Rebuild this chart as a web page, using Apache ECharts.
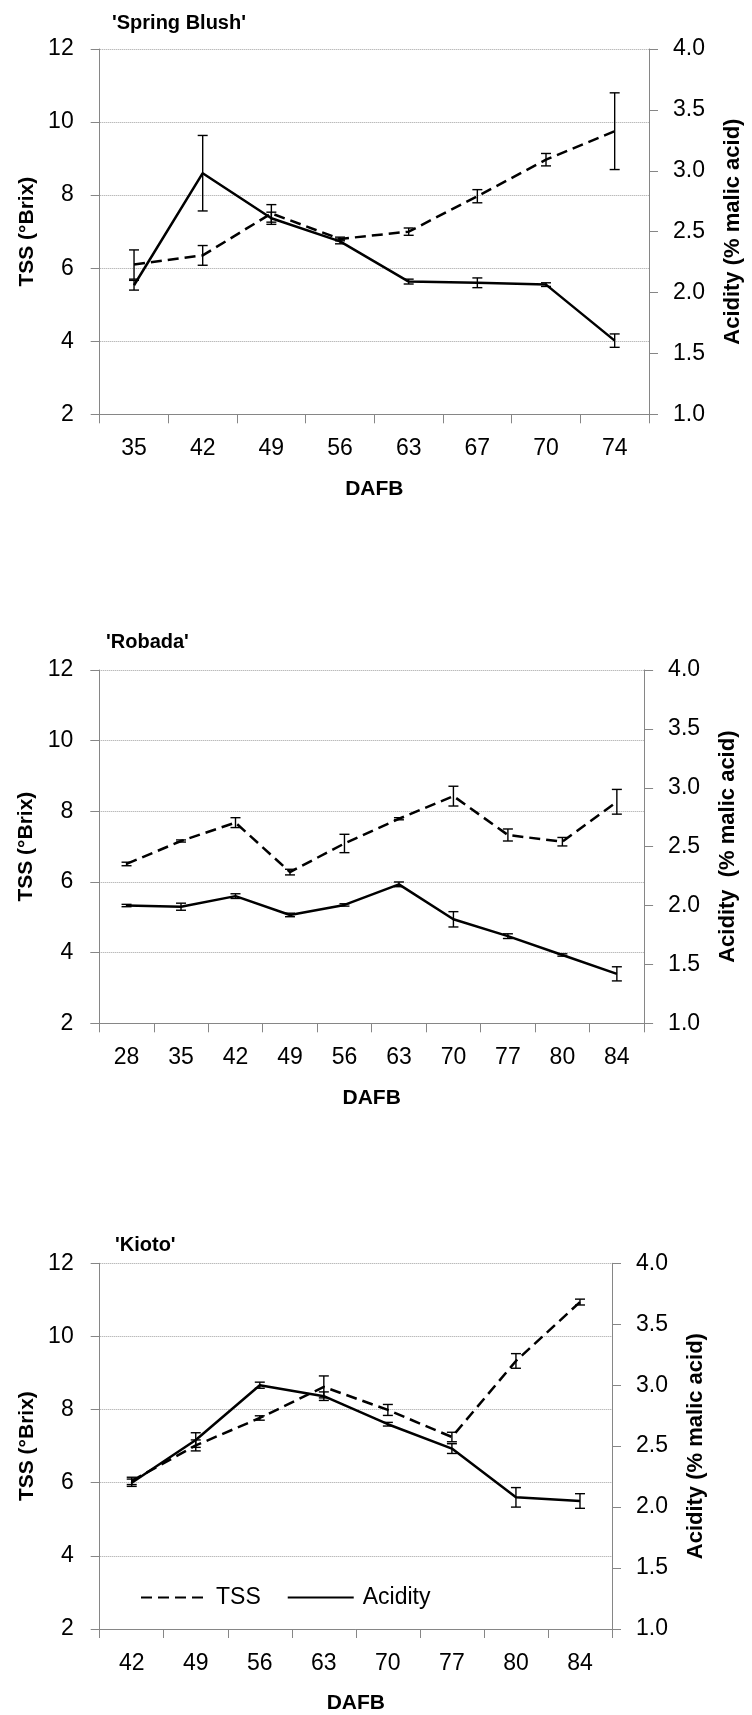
<!DOCTYPE html>
<html><head><meta charset="utf-8">
<script src="https://cdn.jsdelivr.net/npm/echarts@6/dist/echarts.min.js"></script>
<style>html,body{margin:0;padding:0;background:#fff}#c{width:752px;height:1715px}</style>
</head><body><div id="c"></div>
<script>
// 'Spring Blush'
const sbDays = ['35','42','49','56','63','67','70','74'];
const sbTSS = [6.1, 6.35, 7.5, 6.8, 7.0, 7.97, 8.97, 9.75];
const sbTSSErr = [0.4, 0.27, 0.24, 0.05, 0.1, 0.18, 0.17, 1.05];
const sbAcid = [2.06, 2.98, 2.61, 2.42, 2.09, 2.08, 2.065, 1.605];
const sbAcidErr = [0.04, 0.31, 0.05, 0.02, 0.02, 0.04, 0.015, 0.055];
// 'Robada'
const rbDays = ['28','35','42','49','56','63','70','77','80','84'];
const rbTSS = [6.51, 7.16, 7.68, 6.28, 7.09, 7.79, 8.43, 7.33, 7.14, 8.27];
const rbTSSErr = [0.05, 0.03, 0.14, 0.08, 0.26, 0.03, 0.28, 0.17, 0.12, 0.35];
const rbAcid = [2.0, 1.99, 2.08, 1.92, 2.005, 2.18, 1.883, 1.74, 1.58, 1.42];
const rbAcidErr = [0.01, 0.03, 0.02, 0.015, 0.01, 0.02, 0.065, 0.02, 0.01, 0.06];
// 'Kioto'
const kiDays = ['42','49','56','63','70','77','80','84'];
const kiTSS = [6.05, 7.02, 7.77, 8.62, 7.99, 7.25, 9.33, 10.94];
const kiTSSErr = [0.1, 0.15, 0.06, 0.3, 0.15, 0.13, 0.2, 0.08];
const kiAcid = [2.2, 2.55, 3.0, 2.91, 2.68, 2.48, 2.08, 2.05];
const kiAcidErr = [0.03, 0.06, 0.025, 0.035, 0.015, 0.04, 0.08, 0.06];

const titles = ["'Spring Blush'", "'Robada'", "'Kioto'"];
const leftName = 'TSS (°Brix)';
const rightNames = ['Acidity (% malic acid)', 'Acidity  (% malic acid)', 'Acidity (% malic acid)'];
const xName = 'DAFB';

const FONT = 'Liberation Sans';
const AX = '#868686';

const panels = [
  {grid:{left:99.7, top:49, width:552.6, height:365.3}, title:{left:112, top:13}, days:sbDays, tss:sbTSS, tssE:sbTSSErr, ac:sbAcid, acE:sbAcidErr},
  {grid:{left:99.3, top:670, width:544.8, height:353.3}, title:{left:106, top:632}, days:rbDays, tss:rbTSS, tssE:rbTSSErr, ac:rbAcid, acE:rbAcidErr},
  {grid:{left:99.7, top:1263.3, width:512.3, height:366.7}, title:{left:115, top:1235}, days:kiDays, tss:kiTSS, tssE:kiTSSErr, ac:kiAcid, acE:kiAcidErr}
];

function errBars(params, api){
  const i = api.value(0), v = api.value(1), e = api.value(2);
  const t = api.coord([i, v + e]), b = api.coord([i, v - e]);
  const cw = 5;
  const st = {stroke:'#000', lineWidth:1.4};
  return {type:'group', children:[
    {type:'line', shape:{x1:t[0], y1:t[1], x2:b[0], y2:b[1]}, style:st},
    {type:'line', shape:{x1:t[0]-cw, y1:t[1], x2:t[0]+cw, y2:t[1]}, style:st},
    {type:'line', shape:{x1:b[0]-cw, y1:b[1], x2:b[0]+cw, y2:b[1]}, style:st}
  ]};
}

const option = {
  animation:false,
  backgroundColor:'#fff',
  textStyle:{fontFamily:FONT},
  title:[], grid:[], xAxis:[], yAxis:[], series:[],
  legend:{
    data:['TSS','Acidity'], left:135, top:1581, itemWidth:66, itemHeight:14, itemGap:26,
    itemStyle:{opacity:0},
    textStyle:{fontSize:23, color:'#000', fontFamily:FONT, padding:[0,0,0,4]}
  }
};

panels.forEach((p, k) => {
  option.grid.push(Object.assign({containLabel:false}, p.grid));
  option.title.push({text:titles[k], left:p.title.left, top:p.title.top, padding:0,
    textStyle:{fontFamily:FONT, fontWeight:'bold', fontSize:20, color:'#000'}});
  option.xAxis.push({
    gridIndex:k, type:'category', data:p.days, boundaryGap:true,
    axisLine:{show:true, onZero:false, lineStyle:{color:AX, width:1}},
    axisTick:{show:true, length:9, interval:0, lineStyle:{color:AX}},
    axisLabel:{interval:0, margin:23, color:'#000', fontSize:23, fontFamily:FONT},
    splitLine:{show:false},
    name:xName, nameLocation:'middle', nameGap:64,
    nameTextStyle:{fontFamily:FONT, fontWeight:'bold', fontSize:21, color:'#000'}
  });
  option.yAxis.push({
    gridIndex:k, type:'value', min:2, max:12, interval:2, position:'left',
    axisLine:{show:true, lineStyle:{color:AX, width:1}},
    axisTick:{show:true, length:9, lineStyle:{color:AX}},
    axisLabel:{margin:26, color:'#000', fontSize:23, fontFamily:FONT},
    splitLine:{show:true, lineStyle:{type:'dotted', color:'#a0a0a0', width:1}},
    name:leftName, nameLocation:'middle', nameRotate:90, nameGap:62,
    nameTextStyle:{fontFamily:FONT, fontWeight:'bold', fontSize:21, color:'#000'}
  });
  option.yAxis.push({
    gridIndex:k, type:'value', min:1, max:4, interval:0.5, position:'right',
    axisLine:{show:true, lineStyle:{color:AX, width:1}},
    axisTick:{show:true, length:9, lineStyle:{color:AX}},
    axisLabel:{margin:24, color:'#000', fontSize:23, fontFamily:FONT, formatter:v => v.toFixed(1)},
    splitLine:{show:false},
    name:rightNames[k], nameLocation:'middle', nameRotate:90, nameGap:73,
    nameTextStyle:{fontFamily:FONT, fontWeight:'bold', fontSize:22, color:'#000'}
  });
  option.series.push({
    name:'TSS', type:'line', xAxisIndex:k, yAxisIndex:2*k, data:p.tss, symbol:'none',
    lineStyle:{color:'#000', width:2.5, type:[11,6]}, itemStyle:{color:'#000'}, z:3
  });
  option.series.push({
    name:'Acidity', type:'line', xAxisIndex:k, yAxisIndex:2*k+1, data:p.ac, symbol:'none',
    lineStyle:{color:'#000', width:2.5, type:'solid'}, itemStyle:{color:'#000'}, z:3
  });
  option.series.push({
    name:'tssErr'+k, type:'custom', xAxisIndex:k, yAxisIndex:2*k, renderItem:errBars,
    encode:{x:0, y:1}, data:p.tss.map((v,i)=>[i, v, p.tssE[i]]), z:4
  });
  option.series.push({
    name:'acErr'+k, type:'custom', xAxisIndex:k, yAxisIndex:2*k+1, renderItem:errBars,
    encode:{x:0, y:1}, data:p.ac.map((v,i)=>[i, v, p.acE[i]]), z:4
  });
});

const chart = echarts.init(document.getElementById('c'), null, {renderer:'canvas'});
chart.setOption(option);
</script></body></html>
